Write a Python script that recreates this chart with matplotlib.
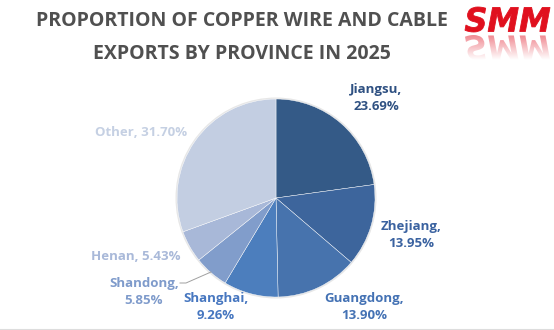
import matplotlib.pyplot as plt
import numpy as np
from matplotlib.patches import Circle, PathPatch
from matplotlib.textpath import TextPath
from matplotlib.font_manager import FontProperties
from matplotlib.transforms import Affine2D
from matplotlib.colors import LinearSegmentedColormap

provinces = ["Jiangsu", "Zhejiang", "Guangdong", "Shanghai", "Shandong", "Henan", "Other"]
shares = [23.69, 13.95, 13.90, 9.26, 5.85, 5.43, 31.70]

slice_colors = ["#345A87", "#3D659C", "#4773AD", "#4C7EBD", "#819DCB", "#A8B8D8", "#C3CEE2"]
label_colors = ["#2F5182", "#3A62A0", "#4472B4", "#4777C0", "#7F9BCB", "#A9B9D9", "#C5D0E3"]

# label anchor points in pixel space (x, y from top) and whether to wrap
label_pos = {
    "Jiangsu": (376, 98, True),
    "Zhejiang": (411, 235, True),
    "Guangdong": (364, 307, True),
    "Shanghai": (216, 307, True),
    "Shandong": (144, 292, True),
    "Henan": (136, 257, False),
    "Other": (141, 132, False),
}

W, H = 554, 330
fig = plt.figure(figsize=(W / 100, H / 100), dpi=100)
ax = fig.add_axes([0, 0, 1, 1])

cx, cy, r = 276, H - 198, 99
ax.add_patch(Circle((cx, cy), r + 1.5, facecolor="#b0b0b0", alpha=0.3, edgecolor="none", zorder=0))
ax.pie(
    shares,
    colors=slice_colors,
    startangle=90,
    counterclock=False,
    center=(cx, cy),
    radius=r,
    frame=True,
    wedgeprops=dict(edgecolor="white", linewidth=0.3),
)
ax.set_xlim(0, W)
ax.set_ylim(0, H)
ax.set_aspect("equal")
ax.axis("off")

font = "Open Sans"
for name, val, col in zip(provinces, shares, label_colors):
    x, y, wrap = label_pos[name]
    sep = ",\n" if wrap else ", "
    ax.text(x, H - y, f"{name}{sep}{val:.2f}%", ha="center", va="center",
            fontsize=9.5, fontweight="bold", color=col, family=font,
            linespacing=1.45)

# leader line for Shandong
ax.plot([180, 186, 211], [H - 283, H - 283, H - 272], color="#a0a0a0", lw=0.7)

fig.text(242 / W, 1 - 21 / H, "PROPORTION OF COPPER WIRE AND CABLE", ha="center", va="center",
         fontsize=14, fontweight="bold", color="#505050", family=font)
fig.text(242 / W, 1 - 54 / H, "EXPORTS BY PROVINCE IN 2025", ha="center", va="center",
         fontsize=14, fontweight="bold", color="#505050", family=font)

# SMM logo with fading reflection
fp = FontProperties(family="DejaVu Sans", weight="bold", style="italic")
tp = TextPath((0, 0), "SMM", size=30, prop=fp)
bb = tp.get_extents()
sx = 85 / bb.width
sy = 25 / bb.height
logo = Affine2D().translate(-bb.x0, -bb.y0).scale(sx, sy).translate(465, H - 32)
ax.add_patch(PathPatch(logo.transform_path(tp), facecolor="#E0101E", edgecolor="#E0101E", lw=0.6))
refl = Affine2D().translate(-bb.x0, -bb.y0).scale(sx, -sy).translate(465, H - 35)
clip = PathPatch(refl.transform_path(tp), facecolor="none", edgecolor="none")
ax.add_patch(clip)
fade = LinearSegmentedColormap.from_list("fade", ["#ffffff", "#F08A92"])
grad = np.linspace(0, 1, 64).reshape(-1, 1)
img = ax.imshow(grad, cmap=fade, extent=(463, 552, H - 60, H - 35), origin="lower",
                aspect="auto", zorder=2)
img.set_clip_path(clip)
ax.set_xlim(0, W)
ax.set_ylim(0, H)

# faint bottom grid line
ax.plot([0, W], [1.5, 1.5], color="#dddddd", lw=0.8)

fig.savefig("out.png", dpi=100)
